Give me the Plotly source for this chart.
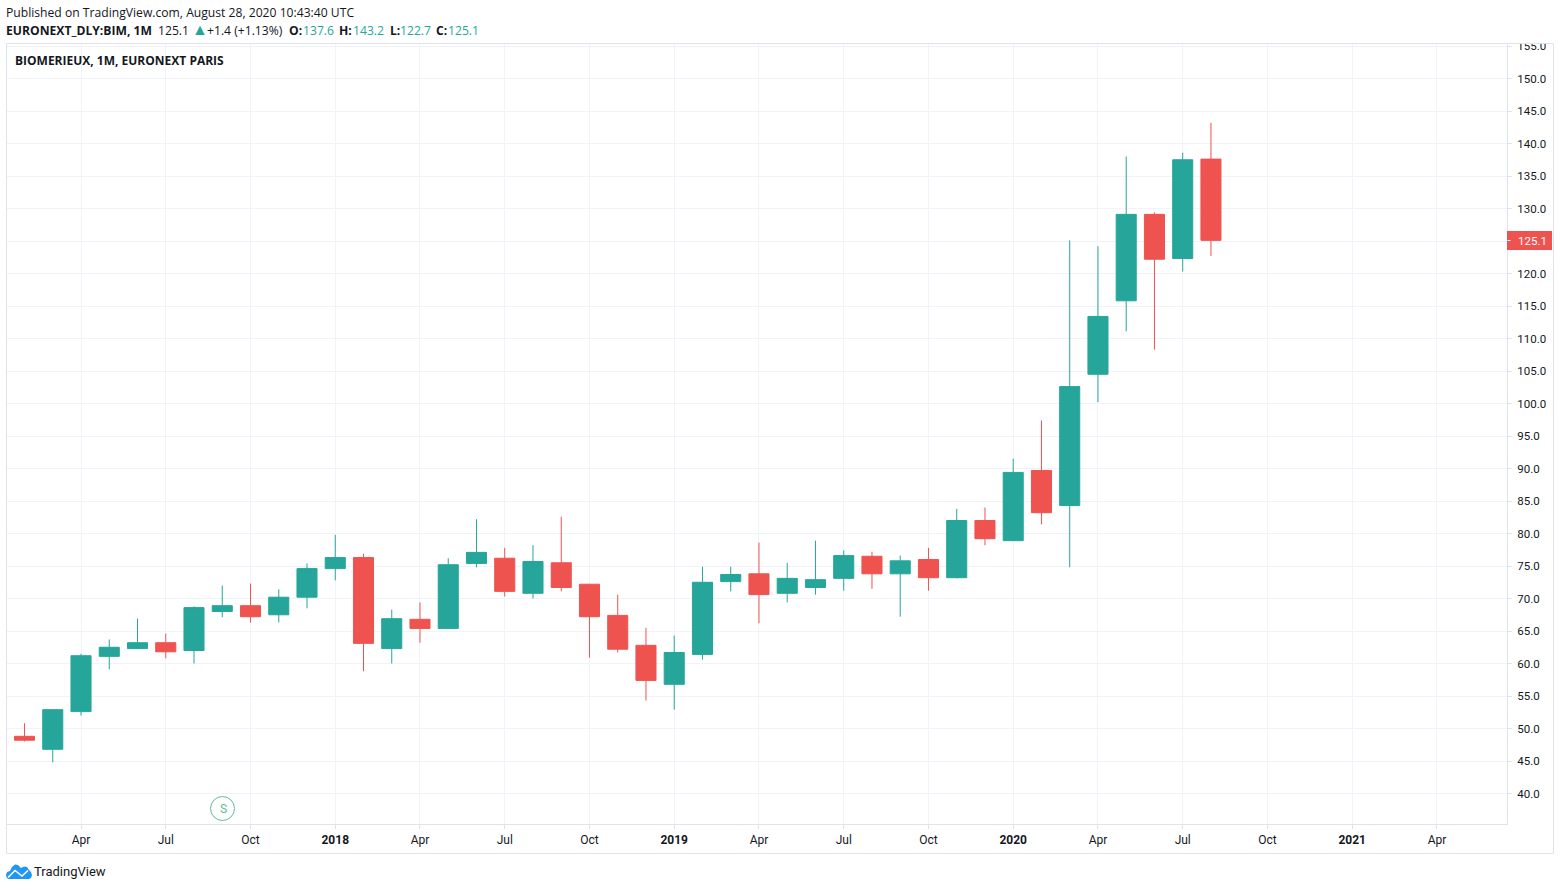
import pandas as pd
import plotly.graph_objects as go

# monthly bars, Feb 2017 to Aug 2020
opens = [48.8, 46.8, 52.6, 61.1, 62.3, 63.2, 62.0, 68.0, 68.9, 67.5, 70.2, 74.6, 76.3, 62.3,
         66.8, 65.4, 75.4, 76.2, 70.8, 75.5, 72.2, 67.4, 62.8, 56.8, 61.4, 72.6, 73.8, 70.8,
         71.7, 73.1, 76.5, 73.8, 76.0, 73.2, 82.0, 78.9, 89.7, 84.3, 104.5, 115.8, 129.1, 122.3, 137.6]
highs = [50.8, 52.9, 61.5, 63.7, 66.9, 64.6, 68.8, 72.0, 72.3, 71.4, 75.4, 79.8, 76.9, 68.3,
         69.4, 76.2, 82.2, 77.8, 78.2, 82.6, 72.2, 70.6, 65.5, 64.3, 74.9, 74.9, 78.6, 75.5,
         78.9, 77.4, 77.2, 76.6, 77.8, 83.8, 84.0, 91.5, 97.4, 125.1, 124.2, 138.0, 129.4, 138.6, 143.2]
lows = [48.0, 44.8, 52.0, 59.1, 62.3, 60.8, 60.0, 67.1, 66.3, 66.3, 68.5, 72.8, 58.8, 60.0,
        63.2, 65.4, 74.8, 70.3, 70.0, 71.1, 60.9, 61.7, 54.3, 52.9, 60.6, 71.1, 66.2, 69.4,
        70.6, 71.2, 71.5, 67.2, 71.2, 73.1, 78.2, 78.9, 81.4, 74.8, 100.2, 111.1, 108.3, 120.3, 122.7]
closes = [48.2, 52.9, 61.2, 62.5, 63.2, 61.8, 68.6, 68.9, 67.2, 70.2, 74.6, 76.3, 63.1, 66.9,
          65.4, 75.2, 77.1, 71.1, 75.7, 71.7, 67.2, 62.2, 57.4, 61.7, 72.5, 73.7, 70.6, 73.1,
          72.9, 76.6, 73.8, 75.8, 73.2, 82.0, 79.2, 89.4, 83.2, 102.6, 113.4, 129.1, 122.2, 137.5, 125.1]

months = list(pd.date_range("2017-02", "2021-08", freq="MS").strftime("%Y-%m"))

tick_months = ["2017-04", "2017-07", "2017-10", "2018-01", "2018-04", "2018-07", "2018-10",
               "2019-01", "2019-04", "2019-07", "2019-10", "2020-01", "2020-04", "2020-07",
               "2020-10", "2021-01", "2021-04"]
tick_labels = ["Apr", "Jul", "Oct", "<b>2018</b>", "Apr", "Jul", "Oct", "<b>2019</b>", "Apr", "Jul",
               "Oct", "<b>2020</b>", "Apr", "Jul", "Oct", "<b>2021</b>", "Apr"]
price_ticks = list(range(40, 160, 5))

W, H = 1560, 890
LEFT, RIGHT, TOP, BOTTOM = 7, 1507, 44, 824

GREEN = "#26a69a"
RED = "#ef5350"
GRID = "#f0f3fa"
BORDER = "#e0e3eb"
TEXT = "#131722"
LOGO = "#2196f3"
HEAD_FONT = "Open Sans"
AXIS_FONT = "Roboto"


def px(x):
    return (x - LEFT) / (RIGHT - LEFT)


def py(y):
    return (BOTTOM - y) / (BOTTOM - TOP)


def label(x, y, text, size=12.15, color=TEXT, family=HEAD_FONT):
    # annotations pad their box by a pixel, hence x - 1
    return dict(x=px(x - 1), y=py(y), xref="paper", yref="paper", text=text, showarrow=False,
                xanchor="left", yanchor="middle", align="left", borderpad=0,
                font=dict(family=family, size=size, color=color))


def hline(x0, x1, y, color=BORDER, width=1):
    return dict(type="line", xref="paper", yref="paper", x0=px(x0), x1=px(x1), y0=py(y), y1=py(y),
                line=dict(color=color, width=width))


def vline(x, y0, y1, color=BORDER, width=1):
    return dict(type="line", xref="paper", yref="paper", x0=px(x), x1=px(x), y0=py(y0), y1=py(y1),
                line=dict(color=color, width=width))


def path(points, closed=False, **kw):
    d = "M" + " L".join(f"{px(a):.5f},{py(b):.5f}" for a, b in points) + (" Z" if closed else "")
    return dict(type="path", xref="paper", yref="paper", path=d, **kw)


fig = go.Figure(go.Candlestick(
    x=months[:len(opens)], open=opens, high=highs, low=lows, close=closes,
    increasing=dict(line=dict(color=GREEN, width=1), fillcolor=GREEN),
    decreasing=dict(line=dict(color=RED, width=1), fillcolor=RED),
    whiskerwidth=0,
))

# outline of the logo
cloud = [(6, 875), (7, 872), (10, 871), (12, 867), (15, 864.5), (18, 865), (21, 868), (24, 866.5),
         (27, 867), (29, 870), (31, 872), (32, 875), (31, 878), (29, 879), (8, 879), (6.5, 877.5)]
cloud_line = [(8, 877.5), (15, 870.5), (22, 876), (28, 870.5)]

shapes = [
    # hides the part of the top tick label above the chart
    dict(type="rect", xref="paper", yref="paper", x0=px(1500), x1=px(1558), y0=py(0), y1=py(43.5),
         fillcolor="white", line=dict(width=0)),
    hline(6.5, 1553.5, 43.5), hline(6.5, 1553.5, 853.5),
    vline(6.5, 43.5, 853.5), vline(1553.5, 43.5, 853.5),
    # last price tag
    dict(type="rect", xref="paper", yref="paper", x0=px(1507), x1=px(1552), y0=py(231), y1=py(250),
         fillcolor=RED, line=dict(width=0)),
    hline(1507.5, 1510.5, 240.5, color="white"),
    # split marker
    dict(type="circle", xref="paper", yref="paper", x0=px(210.5), x1=px(234.5), y0=py(796.5), y1=py(820.5),
         fillcolor="white", line=dict(color="#5cbf94", width=1)),
    path(cloud, closed=True, fillcolor=LOGO, line=dict(width=0)),
    path(cloud_line, line=dict(color="white", width=1.5)),
]

annotations = [
    label(6, 13, "Published on TradingView.com, August 28, 2020 10:43:40 UTC"),
    label(6, 30, "<b>EURONEXT_DLY:BIM, 1M</b>"),
    label(158, 30, "125.1"),
    label(192, 29, "▲", size=16, color=GREEN),
    label(207, 30, "+1.4 (+1.13%)"),
    label(289, 30, "<b>O:</b>"),
    label(303, 30, f"{opens[-1]}", color=GREEN),
    label(339, 30, "<b>H:</b>"),
    label(353, 30, f"{highs[-1]}", color=GREEN),
    label(390, 30, "<b>L:</b>"),
    label(400, 30, f"{lows[-1]}", color=GREEN),
    label(436, 30, "<b>C:</b>"),
    label(448, 30, f"{closes[-1]}", color=GREEN),
    label(15, 60, "<b>BIOMERIEUX, 1M, EURONEXT PARIS</b>", size=12),
    label(1518, 240.5, f"{closes[-1]}", size=11.5, color="white", family=AXIS_FONT),
    label(220, 808.5, "S", color="#5cbf94", family=AXIS_FONT),
    label(34, 871, "TradingView", size=13, family=AXIS_FONT),
]

fig.update_layout(
    width=W, height=H,
    margin=dict(l=LEFT, r=W - RIGHT, t=TOP, b=H - BOTTOM),
    paper_bgcolor="white", plot_bgcolor="white",
    showlegend=False, boxgap=0.29, boxgroupgap=0,
    shapes=shapes, annotations=annotations,
)
fig.update_xaxes(
    type="category", categoryorder="array", categoryarray=months,
    range=[-0.62, 52.48], rangeslider_visible=False,
    tickmode="array", tickvals=tick_months, ticktext=tick_labels,
    ticks="outside", ticklen=4, tickcolor=BORDER, tickangle=0, ticklabelstandoff=1,
    tickfont=dict(family=AXIS_FONT, size=12, color=TEXT),
    showgrid=True, gridcolor=GRID, gridwidth=1, zeroline=False,
    showline=True, linecolor=BORDER, linewidth=1,
)
fig.update_yaxes(
    side="right", range=[35.31, 155.31],
    tickmode="array", tickvals=price_ticks, ticktext=[f"{v:.1f}" for v in price_ticks],
    ticks="outside", ticklen=4, tickcolor=BORDER, ticklabelstandoff=3,
    tickfont=dict(family=AXIS_FONT, size=11.5, color=TEXT),
    showgrid=True, gridcolor=GRID, gridwidth=1, zeroline=False,
    showline=True, linecolor=BORDER, linewidth=1,
)

fig.write_html("out.html", config={"displayModeBar": False},
               post_script="document.body.style.margin='0'")
